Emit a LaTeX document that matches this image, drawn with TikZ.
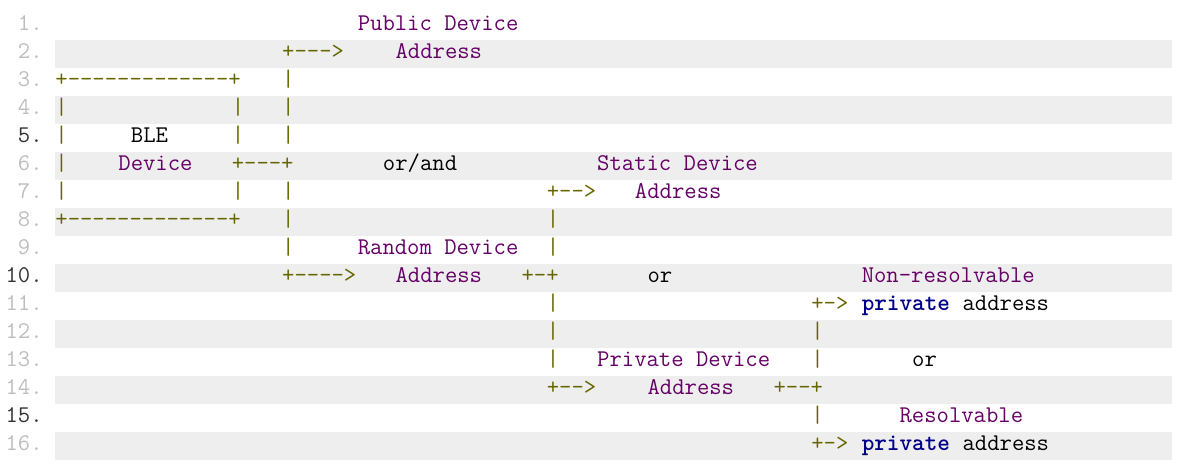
\documentclass[tikz,border=0pt]{standalone}

\definecolor{artcol}{HTML}{666600}
\definecolor{strcol}{HTML}{660066}
\definecolor{kwdcol}{HTML}{000088}
\definecolor{stripecol}{HTML}{EEEEEE}
\definecolor{lnumcol}{HTML}{BEBEBE}
\definecolor{lnumhicol}{HTML}{333333}

\newcommand{\codefont}{\ttfamily\fontsize{12}{14}\selectfont}

\tikzset{
  tok/.style={anchor=base west, inner sep=0pt, font=\codefont},
  art/.style={tok, text=artcol},
  lbl/.style={tok, text=strcol},
  kwd/.style={tok, text=kwdcol, font=\codefont\bfseries},
  pln/.style={tok, text=black},
  num/.style={anchor=base east, inner sep=0pt, font=\codefont, text=lnumcol},
  numhi/.style={num, text=lnumhicol},
  stripe/.style={fill=stripecol},
}

\begin{document}
\begin{tikzpicture}[x=6.3pt, y=-14pt]
  \useasboundingbox (-4.365, -0.089) rectangle (89.29, 16.66);

  % even rows shaded
  \fill[stripe] (0, 1.339) rectangle (88.65, 2.339);
  \fill[stripe] (0, 3.339) rectangle (88.65, 4.339);
  \fill[stripe] (0, 5.339) rectangle (88.65, 6.339);
  \fill[stripe] (0, 7.339) rectangle (88.65, 8.339);
  \fill[stripe] (0, 9.339) rectangle (88.65, 10.339);
  \fill[stripe] (0, 11.339) rectangle (88.65, 12.339);
  \fill[stripe] (0, 13.339) rectangle (88.65, 14.339);
  \fill[stripe] (0, 15.339) rectangle (88.65, 16.339);

  % line numbers
  \node[num]   (ln1)  at (-0.95, 1)  {1.};
  \node[num]   (ln2)  at (-0.95, 2)  {2.};
  \node[num]   (ln3)  at (-0.95, 3)  {3.};
  \node[num]   (ln4)  at (-0.95, 4)  {4.};
  \node[numhi] (ln5)  at (-0.95, 5)  {5.};
  \node[num]   (ln6)  at (-0.95, 6)  {6.};
  \node[num]   (ln7)  at (-0.95, 7)  {7.};
  \node[num]   (ln8)  at (-0.95, 8)  {8.};
  \node[num]   (ln9)  at (-0.95, 9)  {9.};
  \node[numhi] (ln10) at (-0.95, 10) {10.};
  \node[num]   (ln11) at (-0.95, 11) {11.};
  \node[num]   (ln12) at (-0.95, 12) {12.};
  \node[num]   (ln13) at (-0.95, 13) {13.};
  \node[num]   (ln14) at (-0.95, 14) {14.};
  \node[numhi] (ln15) at (-0.95, 15) {15.};
  \node[num]   (ln16) at (-0.95, 16) {16.};

  % BLE device box
  \node[art] (boxtop) at (0, 3)  {+-------------+};
  \node[art] (boxl4)  at (0, 4)  {|};
  \node[art] (boxr4)  at (14, 4) {|};
  \node[art] (boxl5)  at (0, 5)  {|};
  \node[pln] (ble)    at (6, 5)  {BLE};
  \node[art] (boxr5)  at (14, 5) {|};
  \node[art] (boxl6)  at (0, 6)  {|};
  \node[lbl] (device) at (5, 6)  {Device};
  \node[art] (boxl7)  at (0, 7)  {|};
  \node[art] (boxr7)  at (14, 7) {|};
  \node[art] (boxbot) at (0, 8)  {+-------------+};

  % public / random branch
  \node[lbl] (pubtop)  at (24, 1) {Public Device};
  \node[art] (pubarr)  at (18, 2) {+--->};
  \node[lbl] (pubaddr) at (27, 2) {Address};
  \node[art] (trunk3)  at (18, 3) {|};
  \node[art] (trunk4)  at (18, 4) {|};
  \node[art] (trunk5)  at (18, 5) {|};
  \node[art] (devout)  at (14, 6) {+---+};
  \node[pln] (orand)   at (26, 6) {or/and};
  \node[art] (trunk7)  at (18, 7) {|};
  \node[art] (trunk8)  at (18, 8) {|};
  \node[art] (trunk9)  at (18, 9) {|};
  \node[lbl] (rndtop)  at (24, 9) {Random Device};
  \node[art] (rndarr)  at (18, 10) {+---->};
  \node[lbl] (rndaddr) at (27, 10) {Address};

  % static / private branch
  \node[lbl] (stattop)  at (43, 6) {Static Device};
  \node[art] (statarr)  at (39, 7) {+-->};
  \node[lbl] (stataddr) at (46, 7) {Address};
  \node[art] (rtrunk8)  at (39, 8) {|};
  \node[art] (rtrunk9)  at (39, 9) {|};
  \node[art] (rndout)   at (37, 10) {+-+};
  \node[pln] (or1)      at (47, 10) {or};
  \node[art] (rtrunk11) at (39, 11) {|};
  \node[art] (rtrunk12) at (39, 12) {|};
  \node[art] (rtrunk13) at (39, 13) {|};
  \node[lbl] (privtop)  at (43, 13) {Private Device};
  \node[art] (privarr)  at (39, 14) {+-->};
  \node[lbl] (privaddr) at (47, 14) {Address};

  % resolvable / non-resolvable branch
  \node[lbl] (nrtop)    at (64, 10) {Non-resolvable};
  \node[art] (nrarr)    at (60, 11) {+->};
  \node[kwd] (nrkw)     at (64, 11) {private};
  \node[pln] (nraddr)   at (72, 11) {address};
  \node[art] (ptrunk12) at (60, 12) {|};
  \node[art] (ptrunk13) at (60, 13) {|};
  \node[pln] (or2)      at (68, 13) {or};
  \node[art] (privout)  at (57, 14) {+--+};
  \node[art] (ptrunk15) at (60, 15) {|};
  \node[lbl] (restop)   at (67, 15) {Resolvable};
  \node[art] (resarr)   at (60, 16) {+->};
  \node[kwd] (reskw)    at (64, 16) {private};
  \node[pln] (resaddr)  at (72, 16) {address};
\end{tikzpicture}
\end{document}
